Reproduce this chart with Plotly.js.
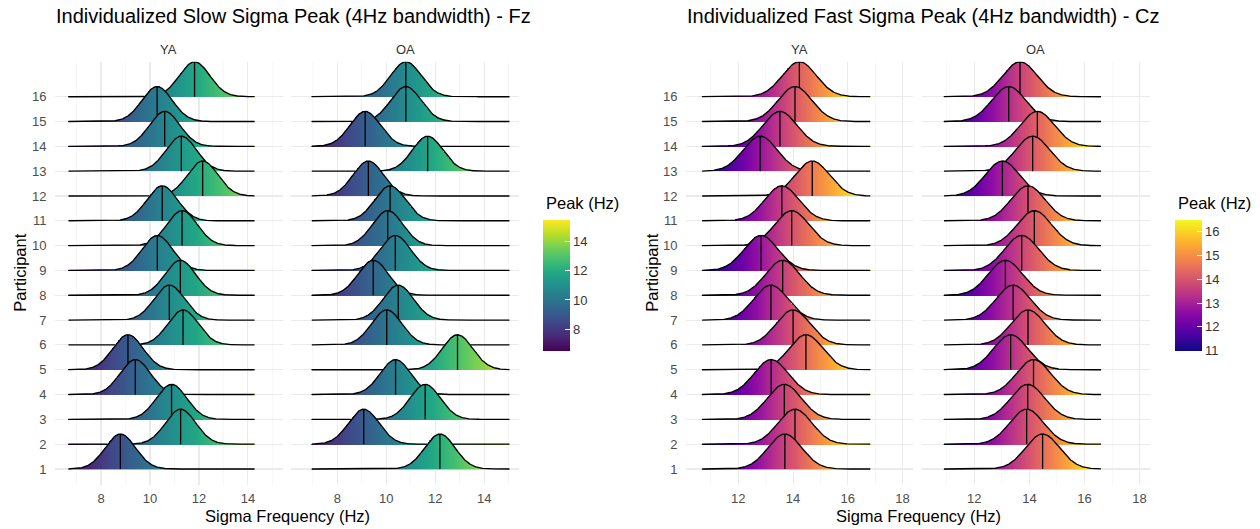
<!DOCTYPE html>
<html><head><meta charset="utf-8">
<script src="https://cdn.plot.ly/plotly-3.0.1.min.js"></script>
<style>html,body{margin:0;padding:0;background:#fff;}#chart{width:1260px;height:529px;}</style>
</head><body><div id="chart"></div>
<script>
// ---------------- data ----------------
const participants = [1,2,3,4,5,6,7,8,9,10,11,12,13,14,15,16];
// individual peak frequency (Hz), participant 1..16
const slowYA = [8.79, 11.25, 10.88, 9.40, 9.10, 11.35, 10.79, 11.24, 10.30, 11.31, 10.50, 12.15, 11.28, 10.60, 10.29, 11.82];
const slowOA = [12.19, 9.08, 11.59, 10.38, 12.91, 10.02, 10.49, 9.47, 10.37, 10.06, 10.16, 9.27, 11.69, 9.14, 10.80, 10.80];
const fastYA = [13.70, 14.07, 13.68, 13.20, 14.47, 14.00, 13.19, 13.62, 12.83, 13.95, 13.59, 14.70, 12.80, 13.52, 14.07, 14.23];
const fastOA = [14.48, 13.90, 13.94, 14.15, 13.32, 13.95, 13.41, 13.13, 13.72, 14.18, 13.95, 13.02, 14.12, 14.29, 13.25, 13.66];
const groups = ['YA', 'OA'];
const titles = ['Individualized Slow Sigma Peak (4Hz bandwidth) - Fz', 'Individualized Fast Sigma Peak (4Hz bandwidth) - Cz'];
const xTitle = 'Sigma Frequency (Hz)';
const yTitle = 'Participant';
const legendTitle = 'Peak (Hz)';
const slowTicks = [8, 10, 12, 14];
const slowMinor = [7, 9, 11, 13, 15];
const fastTicks = [12, 14, 16, 18];
const fastMinor = [11, 13, 15, 17];
const slowCbTicks = [8, 10, 12, 14];
const fastCbTicks = [11, 12, 13, 14, 15, 16];

// ---------------- style ----------------
const W = 1260, H = 529;
const FONT = '"Liberation Sans", Arial, sans-serif';
const RIDGE_H = 1.41, SD = 0.62, EXT = 2.12;
const viridis = [[0,'#440154'],[0.1,'#482475'],[0.2,'#414487'],[0.3,'#355f8d'],[0.4,'#2a788e'],[0.5,'#21918c'],[0.6,'#22a884'],[0.7,'#44bf70'],[0.8,'#7ad151'],[0.9,'#bddf26'],[1,'#fde725']];
const plasma = [[0,'#0d0887'],[0.1,'#41049d'],[0.2,'#6a00a8'],[0.3,'#8f0da4'],[0.4,'#b12a90'],[0.5,'#cc4778'],[0.6,'#e16462'],[0.7,'#f2844b'],[0.8,'#fca636'],[0.9,'#fcce25'],[1,'#f0f921']];

const px = v => v / W;
const py = v => 1 - v / H;

function dens(x, p) { return RIDGE_H * Math.exp(-(x - p) * (x - p) / (2 * SD * SD)); }

function facetTraces(peaks, xa, ya, cs, zr, cb) {
  const lo = Math.min(...peaks) - EXT, hi = Math.max(...peaks) + EXT;
  const dx = 0.025, dy = 0.025;
  const nx = Math.round((hi - lo) / dx) + 1;
  const xs = []; for (let i = 0; i < nx; i++) xs.push(lo + i * dx);
  const y0 = 1, y1 = 16 + RIDGE_H + 0.05;
  const ny = Math.round((y1 - y0) / dy) + 1;
  const ys = []; for (let r = 0; r < ny; r++) ys.push(y0 + r * dy);
  const z = []; for (let r = 0; r < ny; r++) z.push(new Array(nx).fill(null));
  peaks.forEach((p, k) => {
    const b = participants[k];
    for (let i = 0; i < nx; i++) {
      const top = b + dens(xs[i], p);
      const r0 = Math.ceil((b - y0) / dy - 1e-9);
      const r1 = Math.floor((top - y0) / dy + 0.5);
      for (let r = r0; r <= r1 && r < ny; r++) z[r][i] = xs[i];
    }
  });
  const heat = {
    type: 'heatmap', x: xs, y: ys, z: z, xaxis: xa, yaxis: ya,
    colorscale: cs, zmin: zr[0], zmax: zr[1], zsmooth: false, hoverinfo: 'skip',
    showscale: !!cb, colorbar: cb || {}
  };
  // outlines (lower ridges are drawn on top of higher ones)
  const ox = [], oy = [];
  const fx = []; for (let x = lo; x <= hi + 1e-9; x += 0.01) fx.push(x);
  peaks.forEach((p, k) => {
    const b = participants[k];
    fx.forEach(x => {
      const y = b + dens(x, p);
      let hidden = false;
      for (let j = 0; j < k; j++) {
        if (y < participants[j] + dens(x, peaks[j]) - 1e-4) { hidden = true; break; }
      }
      ox.push(x); oy.push(hidden ? null : y);
    });
    ox.push(null); oy.push(null);
  });
  const outline = {
    type: 'scatter', mode: 'lines', x: ox, y: oy, xaxis: xa, yaxis: ya,
    line: { color: '#000', width: 1.35 }, connectgaps: false, hoverinfo: 'skip', showlegend: false
  };
  const vx = [], vy = [];
  peaks.forEach((p, k) => {
    const b = participants[k];
    const top = b + dens(p, p);
    let low = b;
    for (let j = 0; j < k; j++) low = Math.max(low, participants[j] + dens(p, peaks[j]));
    if (low < top) { vx.push(p, p, null); vy.push(low, top, null); }
  });
  const vlines = {
    type: 'scatter', mode: 'lines', x: vx, y: vy, xaxis: xa, yaxis: ya,
    line: { color: '#000', width: 1.3 }, hoverinfo: 'skip', showlegend: false
  };
  return [heat, outline, vlines];
}

const cbCommon = {
  thickness: 27, thicknessmode: 'pixels', lenmode: 'pixels', len: 131.4,
  y: py(285), yanchor: 'middle', xanchor: 'left', xpad: 0, ypad: 0,
  outlinewidth: 0, ticks: 'inside', ticklen: 5, tickcolor: '#fff', tickwidth: 1,
  tickfont: { family: FONT, size: 13, color: '#333' }
};
const cbSlow = Object.assign({}, cbCommon, { x: px(543.3), tickmode: 'array', tickvals: slowCbTicks, ticktext: slowCbTicks.map(String) });
const cbFast = Object.assign({}, cbCommon, { x: px(1175.3), tickmode: 'array', tickvals: fastCbTicks, ticktext: fastCbTicks.map(String) });

const slowRange = [6.53, 15.53], fastRange = [11.0, 16.52];
const traces = [].concat(
  facetTraces(slowYA, 'x', 'y', viridis, slowRange, cbSlow),
  facetTraces(slowOA, 'x2', 'y2', viridis, slowRange, null),
  facetTraces(fastYA, 'x3', 'y3', plasma, fastRange, cbFast),
  facetTraces(fastOA, 'x4', 'y4', plasma, fastRange, null)
);

const tickFont = { family: FONT, size: 13, color: '#4D4D4D' };
function xAxis(dom, range, ticks, minor, anchor) {
  return {
    domain: [px(dom[0]), px(dom[1])], range: range, anchor: anchor,
    tickmode: 'array', tickvals: ticks, ticktext: ticks.map(String),
    showgrid: true, gridcolor: '#EBEBEB', gridwidth: 1.1,
    minor: { tickmode: 'array', tickvals: minor, showgrid: true, gridcolor: '#F3F3F3', gridwidth: 0.7, ticks: '' },
    zeroline: false, showline: false, ticks: 'outside', ticklen: 1, tickcolor: 'rgba(0,0,0,0)',
    tickfont: tickFont, fixedrange: true
  };
}
function yAxis(anchor, labels) {
  return {
    domain: [py(485), py(61.7)], range: [0.355, 17.41], anchor: anchor,
    tickmode: 'array', tickvals: participants, ticktext: participants.map(String),
    showticklabels: labels, showgrid: true, gridcolor: '#EBEBEB', gridwidth: 1.1,
    zeroline: false, showline: false, ticks: labels ? 'outside' : '', ticklen: 5, tickcolor: 'rgba(0,0,0,0)',
    tickfont: tickFont, fixedrange: true
  };
}

const ann = [];
function addText(text, x, y, size, color, opts) {
  ann.push(Object.assign({ text: text, xref: 'paper', yref: 'paper', x: px(x), y: py(y), showarrow: false,
    xanchor: 'center', yanchor: 'middle', font: { family: FONT, size: size, color: color } }, opts || {}));
}
addText(titles[0], 54, 16.5, 20, '#000', { xanchor: 'left' });
addText(titles[1], 685, 16.5, 20, '#000', { xanchor: 'left' });
addText(groups[0], 168.9, 49.5, 13, '#333');
addText(groups[1], 405.1, 49.5, 13, '#333');
addText(groups[0], 799.5, 49.5, 13, '#333');
addText(groups[1], 1035.9, 49.5, 13, '#333');
addText(xTitle, 287, 516, 16.5, '#000');
addText(xTitle, 918, 516, 16.5, '#000');
addText(yTitle, 19.7, 273, 16.5, '#000', { textangle: -90 });
addText(yTitle, 651.7, 273, 16.5, '#000', { textangle: -90 });
addText(legendTitle, 543.5, 203, 16.5, '#000', { xanchor: 'left' });
addText(legendTitle, 1175.5, 203, 16.5, '#000', { xanchor: 'left' });

const layout = {
  width: W, height: H, margin: { l: 0, r: 0, t: 0, b: 0 },
  paper_bgcolor: '#fff', plot_bgcolor: '#fff', showlegend: false,
  font: { family: FONT },
  xaxis: xAxis([55, 282.7], [6.12, 15.42], slowTicks, slowMinor, 'y'),
  xaxis2: xAxis([291.2, 519], [6.12, 15.42], slowTicks, slowMinor, 'y2'),
  xaxis3: xAxis([686, 913], [10.09, 18.38], fastTicks, fastMinor, 'y3'),
  xaxis4: xAxis([921.7, 1150], [10.09, 18.38], fastTicks, fastMinor, 'y4'),
  yaxis: yAxis('x', true),
  yaxis2: yAxis('x2', false),
  yaxis3: yAxis('x3', true),
  yaxis4: yAxis('x4', false),
  annotations: ann
};

Plotly.newPlot('chart', traces, layout, { staticPlot: true, displayModeBar: false });
</script></body></html>
